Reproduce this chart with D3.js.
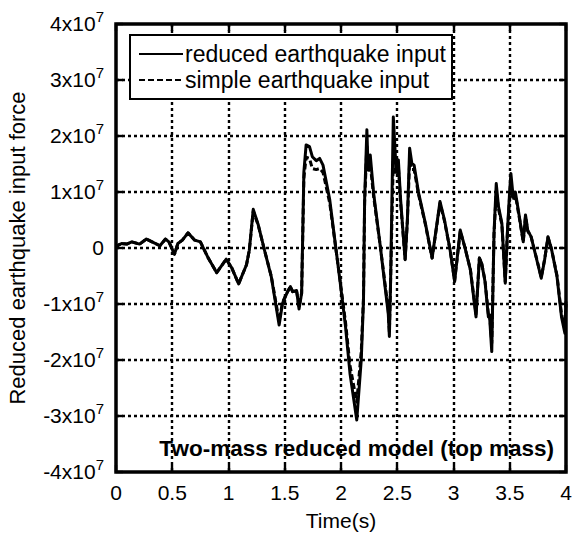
<!DOCTYPE html>
<html>
<head>
<meta charset="utf-8">
<script src="https://cdn.jsdelivr.net/npm/d3@7"></script>
<style>
  body { margin: 0; background: #fff; }
  text { font-family: "Liberation Sans", Arial, sans-serif; fill: #000; }
</style>
</head>
<body>
<div id="grafico"></div>
<script>
// Datos (fuerza en unidades de 1x10^7)
const tiempos = [0.00, 0.02, 0.05, 0.095, 0.14, 0.21, 0.27, 0.33, 0.39, 0.44, 0.47, 0.52, 0.55, 0.59, 0.64, 0.70, 0.75, 0.82, 0.895, 0.98,
  1.03, 1.09, 1.16, 1.185, 1.22, 1.265, 1.32, 1.38, 1.45, 1.48, 1.52, 1.55, 1.57, 1.605, 1.627, 1.65, 1.67, 1.69, 1.72, 1.745,
  1.78, 1.81, 1.84, 1.90, 1.99, 2.04, 2.08, 2.14, 2.18, 2.20, 2.21, 2.23, 2.24, 2.26, 2.29, 2.35, 2.42, 2.43, 2.44, 2.465,
  2.49, 2.51, 2.53, 2.57, 2.59, 2.61, 2.63, 2.65, 2.69, 2.75, 2.81, 2.88, 2.92, 2.97, 3.01, 3.06, 3.10, 3.15, 3.20, 3.23,
  3.25, 3.28, 3.31, 3.32, 3.34, 3.36, 3.38, 3.40, 3.43, 3.46, 3.48, 3.50, 3.51, 3.53, 3.55, 3.59, 3.62, 3.64, 3.66, 3.69,
  3.74, 3.78, 3.81, 3.84, 3.87, 3.92, 3.96, 3.99, 4.00];

const fuerzaReducida = [0.00, 0.05, 0.08, 0.07, 0.11, 0.07, 0.16, 0.10, 0.04, 0.16, 0.11, -0.11, 0.08, 0.14, 0.27, 0.14, 0.11, -0.18, -0.44, -0.20,
  -0.36, -0.64, -0.30, -0.04, 0.69, 0.41, -0.04, -0.51, -1.375, -0.99, -0.80, -0.69, -0.78, -0.76, -1.09, -0.81, 1.36, 1.84, 1.81, 1.63,
  1.56, 1.60, 1.48, 0.86, -0.57, -1.40, -2.24, -3.07, -2.00, -0.93, 0.86, 2.11, 1.45, 1.66, 0.98, 0.02, -1.17, -1.58, -0.69, 2.34,
  1.39, 1.57, 0.86, -0.21, 0.50, 1.78, 1.51, 1.48, 0.98, 0.44, -0.18, 0.83, 0.50, -0.04, -0.60, 0.32, 0.02, -0.39, -1.23, -0.18,
  -0.27, -0.60, -1.23, -1.20, -1.85, 0.26, 1.15, 0.74, 0.44, -0.63, 0.32, 1.04, 1.33, 0.92, 1.00, 0.50, 0.11, 0.59, 0.32, 0.20,
  -0.21, -0.54, -0.21, 0.20, -0.01, -0.51, -1.23, -1.52, -1.00];

const fuerzaSimple = [0.00, 0.05, 0.08, 0.07, 0.11, 0.07, 0.16, 0.10, 0.04, 0.16, 0.11, -0.11, 0.08, 0.14, 0.27, 0.14, 0.11, -0.18, -0.44, -0.20,
  -0.36, -0.64, -0.30, -0.04, 0.66, 0.40, -0.04, -0.50, -1.30, -0.97, -0.80, -0.69, -0.78, -0.76, -1.05, -0.81, 1.25, 1.62, 1.60, 1.42,
  1.40, 1.42, 1.35, 0.80, -0.55, -1.32, -2.10, -2.75, -1.85, -0.88, 0.80, 1.85, 1.35, 1.50, 0.92, 0.02, -1.10, -1.50, -0.66, 1.60,
  1.30, 1.45, 0.80, -0.20, 0.48, 1.55, 1.40, 1.40, 0.95, 0.42, -0.18, 0.80, 0.48, -0.04, -0.58, 0.30, 0.02, -0.38, -1.18, -0.18,
  -0.27, -0.58, -1.18, -1.15, -1.70, 0.24, 1.00, 0.70, 0.42, -0.60, 0.30, 0.95, 1.15, 0.85, 0.95, 0.48, 0.11, 0.56, 0.30, 0.20,
  -0.20, -0.52, -0.20, 0.19, -0.01, -0.49, -1.18, -1.45, -0.95];

const ticksX = [0, 0.5, 1, 1.5, 2, 2.5, 3, 3.5, 4];
const ticksY = [-4, -3, -2, -1, 0, 1, 2, 3, 4];
const exponente = '7';
const series = [
  { nombre: 'reduced earthquake input', valores: fuerzaReducida, guiones: null },
  { nombre: 'simple earthquake input', valores: fuerzaSimple, guiones: '6,3' }
];

// Dimensiones
const W = 579, H = 536;
const margen = { top: 24, right: 13, bottom: 64, left: 116 };
const fs = 21;

const svg = d3.select('#grafico').append('svg')
  .attr('width', W)
  .attr('height', H);

const escX = d3.scaleLinear().domain([0, 4]).range([margen.left, W - margen.right]);
const escY = d3.scaleLinear().domain([-4, 4]).range([H - margen.bottom, margen.top]);
const x0 = escX(0), x1 = escX(4), y0 = escY(-4), y1 = escY(4);
const px = v => Math.round(v);

// Rejilla punteada, una línea por división
const rejilla = svg.append('g');
ticksX.slice(1, -1).forEach(t => {
  rejilla.append('line')
    .attr('x1', px(escX(t))).attr('x2', px(escX(t))).attr('y1', y1).attr('y2', y0)
    .attr('stroke', '#000').attr('stroke-width', 2.4).attr('stroke-dasharray', '3,3');
});
ticksY.slice(1, -1).forEach(v => {
  rejilla.append('line')
    .attr('x1', x0).attr('x2', x1).attr('y1', px(escY(v))).attr('y2', px(escY(v)))
    .attr('stroke', '#000').attr('stroke-width', 2.4).attr('stroke-dasharray', '3,3');
});

// Marcas interiores en los cuatro lados
const L = 7;
ticksX.forEach(t => {
  [[y0, y0 - L], [y1, y1 + L]].forEach(([a, b]) => {
    rejilla.append('line')
      .attr('x1', px(escX(t))).attr('x2', px(escX(t))).attr('y1', a).attr('y2', b)
      .attr('stroke', '#000').attr('stroke-width', 2.4);
  });
});
ticksY.forEach(v => {
  [[x0, x0 + L], [x1, x1 - L]].forEach(([a, b]) => {
    rejilla.append('line')
      .attr('x1', a).attr('x2', b).attr('y1', px(escY(v))).attr('y2', px(escY(v)))
      .attr('stroke', '#000').attr('stroke-width', 2.4);
  });
});

// Curvas
const linea = vals => d3.line().x((d, i) => escX(tiempos[i])).y(d => escY(d))(vals);
svg.append('g')
  .selectAll('path').data(series.slice().reverse()).enter().append('path')
  .attr('d', d => linea(d.valores))
  .attr('fill', 'none')
  .attr('stroke', '#000')
  .attr('stroke-width', 3)
  .attr('stroke-linejoin', 'round')
  .attr('stroke-dasharray', d => d.guiones);

// Marco
svg.append('rect')
  .attr('x', x0).attr('y', y1)
  .attr('width', x1 - x0).attr('height', y0 - y1)
  .attr('fill', 'none').attr('stroke', '#000').attr('stroke-width', 3.5);

// Etiquetas eje X
svg.append('g').selectAll('text').data(ticksX).enter().append('text')
  .attr('x', d => escX(d)).attr('y', y0 + 28)
  .attr('text-anchor', 'middle')
  .attr('font-size', fs)
  .text(d => d);

// Etiquetas eje Y con potencia
const etiqY = svg.append('g').selectAll('text').data(ticksY).enter().append('text')
  .attr('x', x0 - 12).attr('y', d => escY(d) + 7)
  .attr('text-anchor', 'end')
  .attr('font-size', fs);
etiqY.each(function(d) {
  const t = d3.select(this);
  if (d === 0) { t.text('0'); return; }
  t.append('tspan').text(d + 'x10');
  t.append('tspan').attr('dy', -9).attr('font-size', 15).text(exponente);
});

// Títulos
svg.append('text')
  .attr('x', (x0 + x1) / 2).attr('y', H - 8)
  .attr('text-anchor', 'middle').attr('font-size', fs)
  .text('Time(s)');
svg.append('text')
  .attr('transform', `translate(25,${(y0 + y1) / 2}) rotate(-90)`)
  .attr('text-anchor', 'middle').attr('font-size', 22)
  .text('Reduced earthquake input force');

// Anotación
svg.append('text')
  .attr('x', x1 - 12).attr('y', y0 - 16)
  .attr('text-anchor', 'end').attr('font-size', 22.5).attr('font-weight', 'bold')
  .text('Two-mass reduced model (top mass)');

// Leyenda
const ley = svg.append('g');
ley.append('rect')
  .attr('x', 130).attr('y', 35).attr('width', 322).attr('height', 64)
  .attr('fill', '#fff').attr('stroke', '#000').attr('stroke-width', 2);
series.forEach((s, i) => {
  const yy = 54 + i * 26;
  ley.append('line')
    .attr('x1', 139).attr('x2', 183).attr('y1', yy).attr('y2', yy)
    .attr('stroke', '#000').attr('stroke-width', 2.2)
    .attr('stroke-dasharray', s.guiones);
  ley.append('text')
    .attr('x', 185).attr('y', yy + 8)
    .attr('font-size', 23)
    .text(s.nombre);
});
</script>
</body>
</html>
